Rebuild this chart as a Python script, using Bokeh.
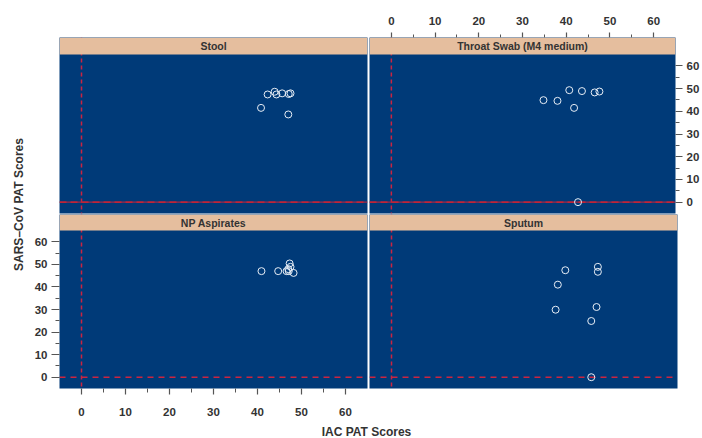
import math
from bokeh.plotting import figure
from bokeh.layouts import row, column
from bokeh.models import Range1d, FixedTicker, Span, BoxAnnotation, Label
from bokeh.embed import file_html
from bokeh.resources import INLINE

# ---------------- data ----------------
panel_names = ["Stool", "Throat Swab (M4 medium)", "NP Aspirates", "Sputum"]

stool_x = [42.3, 43.9, 44.3, 45.6, 47.1, 47.5, 40.8, 47.0]
stool_y = [47.4, 48.6, 47.4, 47.9, 47.6, 47.9, 41.5, 38.6]

throat_x = [40.7, 43.6, 46.5, 47.6, 34.8, 38.0, 41.8, 42.7]
throat_y = [49.3, 48.9, 48.3, 48.7, 44.9, 44.6, 41.5, 0.0]

np_x = [40.9, 44.7, 46.6, 47.3, 47.5, 47.0, 47.1, 48.2]
np_y = [47.0, 47.0, 47.0, 50.4, 48.9, 47.9, 47.0, 46.2]

sputum_x = [39.5, 46.9, 46.9, 37.8, 37.3, 46.6, 45.4, 45.4]
sputum_y = [47.4, 48.9, 46.7, 41.0, 29.9, 31.1, 24.9, 0.0]

major_ticks = [0, 10, 20, 30, 40, 50, 60]
minor_ticks = [5, 15, 25, 35, 45, 55]

x_title = "IAC PAT Scores"
y_title = "SARS\u2013CoV PAT Scores"

# ---------------- style ----------------
XMIN, XMAX = -5, 65
YMIN, YMAX = -5, 65
NAVY = "#003A78"
STRIP = "#E5BE9E"
RED = "#CC2440"
RED_DARK = "#A02848"
FONT = "Liberation Sans"
TXT = "#333333"
TICK = "#555555"


def style_axis(ax, tick_out, minor_out, standoff):
    ax.ticker = FixedTicker(ticks=major_ticks, minor_ticks=minor_ticks)
    ax.axis_line_color = None
    ax.major_tick_in = 0
    ax.minor_tick_in = 0
    ax.major_tick_out = tick_out
    ax.minor_tick_out = minor_out
    ax.major_tick_line_color = TICK
    ax.minor_tick_line_color = TICK
    ax.major_tick_line_width = 1.2
    ax.minor_tick_line_width = 1.0
    ax.major_label_standoff = standoff
    ax.major_label_text_font = FONT
    ax.major_label_text_font_style = "bold"
    ax.major_label_text_font_size = "11.5px"
    ax.major_label_text_color = TXT


def make_panel(name, xs, ys, width, height, borders, frame_h, strip_px,
               top_row, x_loc=None, y_loc=None):
    data_px = frame_h - strip_px
    ytop = YMAX + strip_px * (YMAX - YMIN) / data_px
    bl, br, bt, bb = borders
    p = figure(width=width, height=height,
               x_range=Range1d(XMIN, XMAX), y_range=Range1d(YMIN, ytop),
               x_axis_location=x_loc, y_axis_location=y_loc,
               output_backend="svg", toolbar_location=None,
               min_border_left=bl, min_border_right=br,
               min_border_top=bt, min_border_bottom=bb,
               background_fill_color=NAVY, border_fill_color="white",
               outline_line_color=None)
    for g in p.grid:
        g.visible = False

    # reference lines at zero
    p.add_layout(Span(location=0, dimension="height", line_color=RED,
                      line_dash="4 3", line_width=1.5, level="underlay"))
    if top_row:
        p.add_layout(Span(location=0, dimension="width", line_color=RED_DARK,
                          line_width=1.4, level="underlay"))
        p.add_layout(Span(location=0, dimension="width", line_color="#D8222E",
                          line_dash="7 4", line_width=1.4, level="underlay"))
    else:
        p.add_layout(Span(location=0, dimension="width", line_color=RED,
                          line_dash="6 5", line_width=1.4, level="underlay"))

    p.scatter(xs, ys, marker="circle", size=7, fill_color=None,
              line_color="#E8EEF6", line_width=1.0)

    # strip
    p.add_layout(BoxAnnotation(left=XMIN, right=XMAX, bottom=YMAX, top=ytop,
                               fill_color=STRIP, fill_alpha=1.0,
                               line_color=None))
    p.add_layout(Label(x=(XMIN + XMAX) / 2, y=(YMAX + ytop) / 2, text=name,
                       text_align="center", text_baseline="middle",
                       text_font=FONT, text_font_style="bold",
                       text_font_size="10.5px", text_color=TXT))
    return p


tl = make_panel(panel_names[0], stool_x, stool_y, 342, 214, (33, 1, 37, 1),
                176, 17, True)
tr = make_panel(panel_names[1], throat_x, throat_y, 334, 214, (1, 25, 37, 1),
                176, 17, True, x_loc="above", y_loc="right")
bl = make_panel(panel_names[2], np_x, np_y, 342, 207, (33, 1, 0, 33),
                174, 16, False, x_loc="below", y_loc="left")
br = make_panel(panel_names[3], sputum_x, sputum_y, 334, 207, (1, 25, 0, 33),
                174, 16, False)

style_axis(tr.xaxis[0], 5, 3, 8)
style_axis(tr.yaxis[0], 7, 4, 4)
style_axis(bl.xaxis[0], 6, 4, 13)
style_axis(bl.yaxis[0], 8, 4, 4)


def text_fig(width, height, text, sx, sy, angle):
    f = figure(width=width, height=height, x_range=Range1d(0, 1),
               y_range=Range1d(0, 1), x_axis_location=None,
               y_axis_location=None, output_backend="svg",
               toolbar_location=None, min_border=0,
               outline_line_color=None, border_fill_color="white",
               background_fill_color="white")
    for g in f.grid:
        g.visible = False
    f.add_layout(Label(x=sx, y=sy, x_units="screen", y_units="screen",
                       text=text, angle=angle, text_align="center",
                       text_baseline="middle", text_font=FONT,
                       text_font_style="bold", text_font_size="12px",
                       text_color=TXT))
    return f


ylab = text_fig(26, 438, y_title, 18, 234, math.pi / 2)
xlab = text_fig(676, 17, x_title, 340, 7, 0)

layout = row(ylab, column(row(tl, tr), row(bl, br), xlab))

with open("out.html", "w") as fh:
    fh.write(file_html(layout, INLINE))
